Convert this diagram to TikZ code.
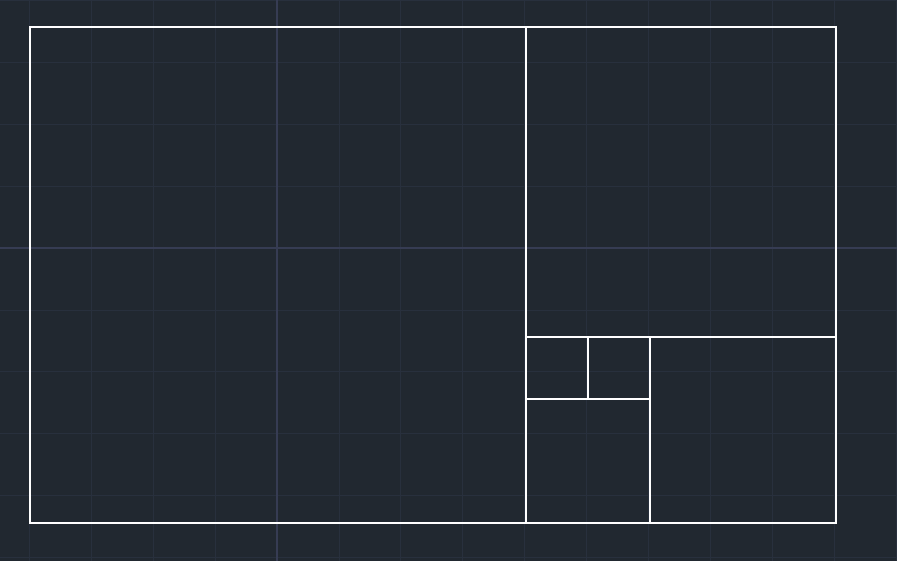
\documentclass[tikz,border=0pt]{standalone}
\usepackage{xcolor}
\definecolor{cadbg}{HTML}{212830}
\definecolor{cadgrid}{HTML}{28303D}
\definecolor{cadaxis}{HTML}{363C53}
\definecolor{cadline}{HTML}{FFFFFF}
\usepackage{tikz}

\begin{document}
\begin{tikzpicture}[
    x=0.02cm, y=-0.02cm,
    minor/.style={draw=cadgrid, line width=0.55pt},
    major/.style={draw=cadaxis, line width=0.6pt},
    square/.style={draw=cadline, line width=0.6pt}
]

% ── Background ──
\fill[cadbg] (0,0) rectangle (897,561);
\useasboundingbox (0,0) rectangle (897,561);

% ── Grid ──
\foreach \k in {0,...,14} {
  \draw[minor] ({29.5+61.9*\k},0) -- ({29.5+61.9*\k},561);
}
\foreach \k in {0,...,9} {
  \draw[minor] (0,{0.5+61.9*\k}) -- (897,{0.5+61.9*\k});
}
\draw[major] (277,0) -- (277,561);
\draw[major] (0,248) -- (897,248);

% ── Fibonacci Squares ──
\draw[square] (30,27) rectangle (526,523);
\draw[square] (526,27) rectangle (836,337);
\draw[square] (650,337) rectangle (836,523);
\draw[square] (526,399) rectangle (650,523);
\draw[square] (526,337) rectangle (588,399);
\draw[square] (588,337) rectangle (650,399);
\end{tikzpicture}
\end{document}
